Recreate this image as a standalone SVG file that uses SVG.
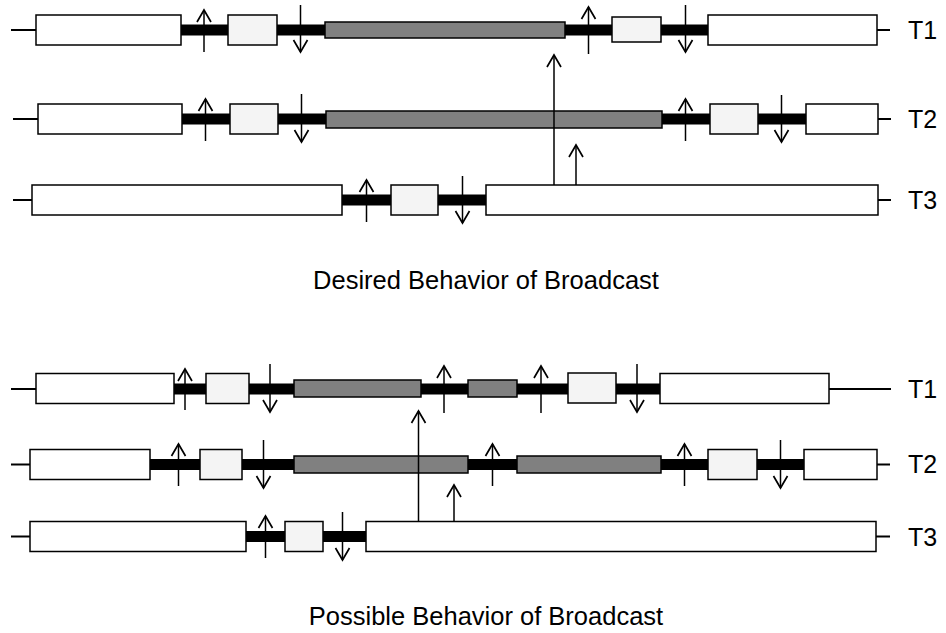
<svg xmlns="http://www.w3.org/2000/svg" width="946" height="633" viewBox="0 0 946 633">
<style>
.bg{fill:#fff}
.w{fill:#fff;stroke:#000;stroke-width:1.5}
.l{fill:#f4f4f4;stroke:#000;stroke-width:1.5}
.g{fill:#808080;stroke:#000;stroke-width:1.5}
.bar{fill:#000}
.stub{stroke:#000;stroke-width:2;fill:none}
.arr{stroke:#000;stroke-width:1.5;fill:none;marker-end:url(#ah)}
.lab{font-family:"Liberation Sans",Arial,sans-serif;font-size:25px;fill:#000}
.cap{font-family:"Liberation Sans",Arial,sans-serif;font-size:25.5px;fill:#000;text-anchor:middle}
</style>
<defs>
<marker id="ah" viewBox="0 0 14 16" refX="13" refY="8" markerWidth="14" markerHeight="16" markerUnits="userSpaceOnUse" orient="auto" overflow="visible">
<path d="M1,1 L13,8 L1,15" fill="none" stroke="#000" stroke-width="1.7"/>
</marker>
</defs>
<rect class="bg" x="0" y="0" width="946" height="633"/>

<g id="timelines">
<line class="stub" x1="11" y1="30" x2="36" y2="30"/>
<rect class="bar" x="181" y="24.5" width="527" height="11"/>
<line class="stub" x1="877" y1="30" x2="890" y2="30"/>
<line class="stub" x1="13" y1="119" x2="38" y2="119"/>
<rect class="bar" x="182" y="113.5" width="624" height="11"/>
<line class="stub" x1="878" y1="119" x2="891" y2="119"/>
<line class="stub" x1="13" y1="200" x2="32" y2="200"/>
<rect class="bar" x="342" y="194.5" width="144" height="11"/>
<line class="stub" x1="878" y1="200" x2="891" y2="200"/>

<line class="stub" x1="11" y1="389" x2="36" y2="389"/>
<rect class="bar" x="174" y="383.5" width="486" height="11"/>
<line class="stub" x1="829" y1="389" x2="891" y2="389"/>
<line class="stub" x1="11" y1="464.5" x2="30" y2="464.5"/>
<rect class="bar" x="150" y="459" width="654" height="11"/>
<line class="stub" x1="877" y1="464.5" x2="890" y2="464.5"/>
<line class="stub" x1="11" y1="536.5" x2="30" y2="536.5"/>
<rect class="bar" x="246" y="531" width="120" height="11"/>
<line class="stub" x1="876" y1="536.5" x2="890" y2="536.5"/>
</g>

<g id="a-t1">
<g id="a-t1-w1"><rect class="w" x="36" y="15" width="145" height="30"/></g>
<g id="a-t1-l1"><rect class="l" x="228" y="15" width="49" height="30"/></g>
<g id="a-t1-g1"><rect class="g" x="325" y="22" width="240" height="16"/></g>
<g id="a-t1-l2"><rect class="l" x="612" y="17" width="49" height="25"/></g>
<g id="a-t1-w2"><rect class="w" x="708" y="15" width="169" height="30"/></g>
<text class="lab" x="908" y="39">T1</text>
</g>
<g id="a-t2">
<g id="a-t2-w1"><rect class="w" x="38" y="104" width="144" height="30"/></g>
<g id="a-t2-l1"><rect class="l" x="230" y="104" width="48" height="30"/></g>
<g id="a-t2-g1"><rect class="g" x="326" y="111" width="336" height="17"/></g>
<g id="a-t2-l2"><rect class="l" x="710" y="104" width="48" height="30"/></g>
<g id="a-t2-w2"><rect class="w" x="806" y="104" width="72" height="30"/></g>
<text class="lab" x="908" y="128">T2</text>
</g>
<g id="a-t3">
<g id="a-t3-w1"><rect class="w" x="32" y="185" width="310" height="30"/></g>
<g id="a-t3-l1"><rect class="l" x="391" y="185" width="47" height="30"/></g>
<g id="a-t3-w2"><rect class="w" x="486" y="185" width="392" height="30"/></g>
<text class="lab" x="908" y="209">T3</text>
</g>
<text class="cap" x="486" y="289">Desired Behavior of Broadcast</text>

<g id="b-t1">
<g id="b-t1-w1"><rect class="w" x="36" y="373.5" width="138" height="30"/></g>
<g id="b-t1-l1"><rect class="l" x="206" y="373.5" width="43" height="30"/></g>
<g id="b-t1-g1"><rect class="g" x="294" y="380" width="127" height="17"/></g>
<g id="b-t1-g2"><rect class="g" x="468" y="380" width="49" height="17"/></g>
<g id="b-t1-l2"><rect class="l" x="568" y="373" width="48" height="30"/></g>
<g id="b-t1-w2"><rect class="w" x="660" y="373.5" width="169" height="30"/></g>
<text class="lab" x="908" y="398">T1</text>
</g>
<g id="b-t2">
<g id="b-t2-w1"><rect class="w" x="30" y="449.5" width="120" height="30"/></g>
<g id="b-t2-l1"><rect class="l" x="200" y="449.5" width="42" height="30"/></g>
<g id="b-t2-g1"><rect class="g" x="294" y="456" width="174" height="17"/></g>
<g id="b-t2-g2"><rect class="g" x="517" y="456" width="144" height="17"/></g>
<g id="b-t2-l2"><rect class="l" x="708" y="449.5" width="49" height="30"/></g>
<g id="b-t2-w2"><rect class="w" x="804" y="449.5" width="73" height="30"/></g>
<text class="lab" x="908" y="473">T2</text>
</g>
<g id="b-t3">
<g id="b-t3-w1"><rect class="w" x="30" y="521.5" width="216" height="30"/></g>
<g id="b-t3-l1"><rect class="l" x="285" y="521.5" width="38" height="30"/></g>
<g id="b-t3-w2"><rect class="w" x="366" y="521.5" width="510" height="30"/></g>
<text class="lab" x="908" y="546">T3</text>
</g>
<text class="cap" x="486" y="625">Possible Behavior of Broadcast</text>

<g id="connectors">
<line class="arr" x1="204" y1="52" x2="204" y2="10"/>
<line class="arr" x1="300.5" y1="5" x2="300.5" y2="52"/>
<line class="arr" x1="588.5" y1="54" x2="588.5" y2="7"/>
<line class="arr" x1="685.5" y1="5" x2="685.5" y2="52"/>
<line class="arr" x1="205.5" y1="141" x2="205.5" y2="99"/>
<line class="arr" x1="301.5" y1="94" x2="301.5" y2="142"/>
<line class="arr" x1="685.5" y1="141" x2="685.5" y2="99"/>
<line class="arr" x1="781.5" y1="95" x2="781.5" y2="142"/>
<line class="arr" x1="366.5" y1="222" x2="366.5" y2="180"/>
<line class="arr" x1="462.5" y1="176" x2="462.5" y2="223"/>
<line class="arr" x1="554" y1="185" x2="554" y2="55"/>
<line class="arr" x1="576" y1="185" x2="576" y2="145"/>

<line class="arr" x1="185" y1="410" x2="185" y2="369"/>
<line class="arr" x1="270" y1="364" x2="270" y2="412"/>
<line class="arr" x1="444" y1="413" x2="444" y2="366"/>
<line class="arr" x1="541" y1="413" x2="541" y2="366"/>
<line class="arr" x1="637" y1="364" x2="637" y2="412"/>
<line class="arr" x1="178.5" y1="486" x2="178.5" y2="444"/>
<line class="arr" x1="263.5" y1="440" x2="263.5" y2="488"/>
<line class="arr" x1="492.5" y1="486" x2="492.5" y2="444"/>
<line class="arr" x1="684.5" y1="486" x2="684.5" y2="444"/>
<line class="arr" x1="780.5" y1="440" x2="780.5" y2="488"/>
<line class="arr" x1="265.5" y1="558" x2="265.5" y2="516"/>
<line class="arr" x1="342.5" y1="512" x2="342.5" y2="560"/>
<line class="arr" x1="418.5" y1="521.5" x2="418.5" y2="411"/>
<line class="arr" x1="454" y1="521.5" x2="454" y2="485"/>
</g>
</svg>
